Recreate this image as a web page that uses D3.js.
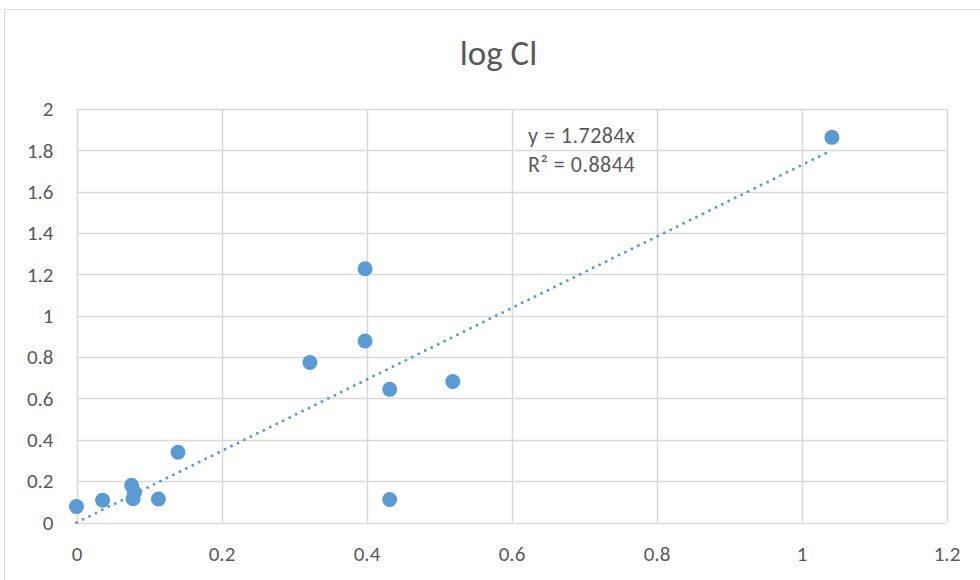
<!DOCTYPE html>
<html>
<head>
<meta charset="utf-8">
<script src="https://cdn.jsdelivr.net/npm/d3@7"></script>
<style>
  html, body { margin: 0; padding: 0; background: #fff; }
  svg { display: block; }
  text { font-family: Carlito, Lato, "Open Sans", sans-serif; fill: #595959; }
</style>
</head>
<body>
<svg id="chart" width="980" height="580"></svg>
<script>
// Observations: x and y (log Cl)
const xValues = [0, 0.036, 0.076, 0.080, 0.078, 0.113, 0.140, 0.322, 0.398, 0.398, 0.432, 0.432, 0.519, 1.042];
const yValues = [0.077, 0.108, 0.180, 0.145, 0.115, 0.114, 0.340, 0.774, 1.227, 0.878, 0.644, 0.111, 0.682, 1.863];

const xTicks = [0, 0.2, 0.4, 0.6, 0.8, 1, 1.2];
const yTicks = [0, 0.2, 0.4, 0.6, 0.8, 1, 1.2, 1.4, 1.6, 1.8, 2];

// Linear trendline through the origin
const slope = 1.7284;
const rSquared = 0.8844;
const chartTitle = "log Cl";

const svg = d3.select("#chart");

// Outer chart frame
svg.append("rect")
  .attr("x", 4.5).attr("y", 9.5)
  .attr("width", 990).attr("height", 590)
  .attr("fill", "#fff").attr("stroke", "#d9d9d9").attr("stroke-width", 1);

const plot = { left: 76.5, right: 946.5, top: 109, bottom: 522.5 };

const x = d3.scaleLinear().domain([0, 1.2]).range([plot.left, plot.right]);
const y = d3.scaleLinear().domain([0, 2]).range([plot.bottom, plot.top]);

// Title
svg.append("text")
  .attr("x", 498.5).attr("y", 65)
  .attr("text-anchor", "middle")
  .style("font-size", "35px")
  .text(chartTitle);

// Gridlines
const grid = svg.append("g");
grid.selectAll(".hg").data(yTicks).enter().append("line")
  .attr("x1", plot.left).attr("x2", plot.right)
  .attr("y1", d => Math.round(y(d)) + 0.5).attr("y2", d => Math.round(y(d)) + 0.5)
  .attr("stroke", "#d9d9d9").attr("stroke-width", 1.5);
grid.selectAll(".vg").data(xTicks).enter().append("line")
  .attr("y1", plot.top).attr("y2", plot.bottom)
  .attr("x1", d => Math.round(x(d)) + 0.5).attr("x2", d => Math.round(x(d)) + 0.5)
  .attr("stroke", "#d9d9d9").attr("stroke-width", 1.5);

// Axes (labels only; lines drawn by the grid)
const yAxis = svg.append("g")
  .attr("transform", `translate(${plot.left},0)`)
  .call(d3.axisLeft(y).tickValues(yTicks).tickSize(0).tickPadding(23).tickFormat(d3.format("")));
yAxis.attr("font-size", 21).attr("font-family", null);
yAxis.select(".domain").remove();
yAxis.selectAll("text").style("font-size", "21px").attr("fill", "#595959");

const xAxis = svg.append("g")
  .attr("transform", `translate(0,${plot.bottom})`)
  .call(d3.axisBottom(x).tickValues(xTicks).tickSize(0).tickPadding(24).tickFormat(d3.format("")));
xAxis.attr("font-size", 21).attr("font-family", null);
xAxis.select(".domain").remove();
xAxis.selectAll("text").style("font-size", "21px").attr("fill", "#595959");

// Trendline
const xMax = d3.max(xValues);
svg.append("line")
  .attr("x1", x(0)).attr("y1", y(0))
  .attr("x2", x(xMax)).attr("y2", y(slope * xMax))
  .attr("stroke", "#5b9bd5").attr("stroke-width", 3)
  .attr("stroke-linecap", "round")
  .attr("stroke-dasharray", "0 7.2");

// Points
const points = xValues.map((v, i) => ({ x: v, y: yValues[i] }));
svg.append("g").selectAll("circle").data(points).enter().append("circle")
  .attr("cx", d => x(d.x)).attr("cy", d => y(d.y))
  .attr("r", 7.5)
  .attr("fill", "#5b9bd5");

// Trendline equation
const eq = svg.append("text").style("font-size", "22px").attr("letter-spacing", 0.5);
eq.append("tspan").attr("x", 528).attr("y", 143).text(`y = ${slope}x`);
eq.append("tspan").attr("x", 528).attr("y", 172).text(`R² = ${rSquared}`);
</script>
</body>
</html>
